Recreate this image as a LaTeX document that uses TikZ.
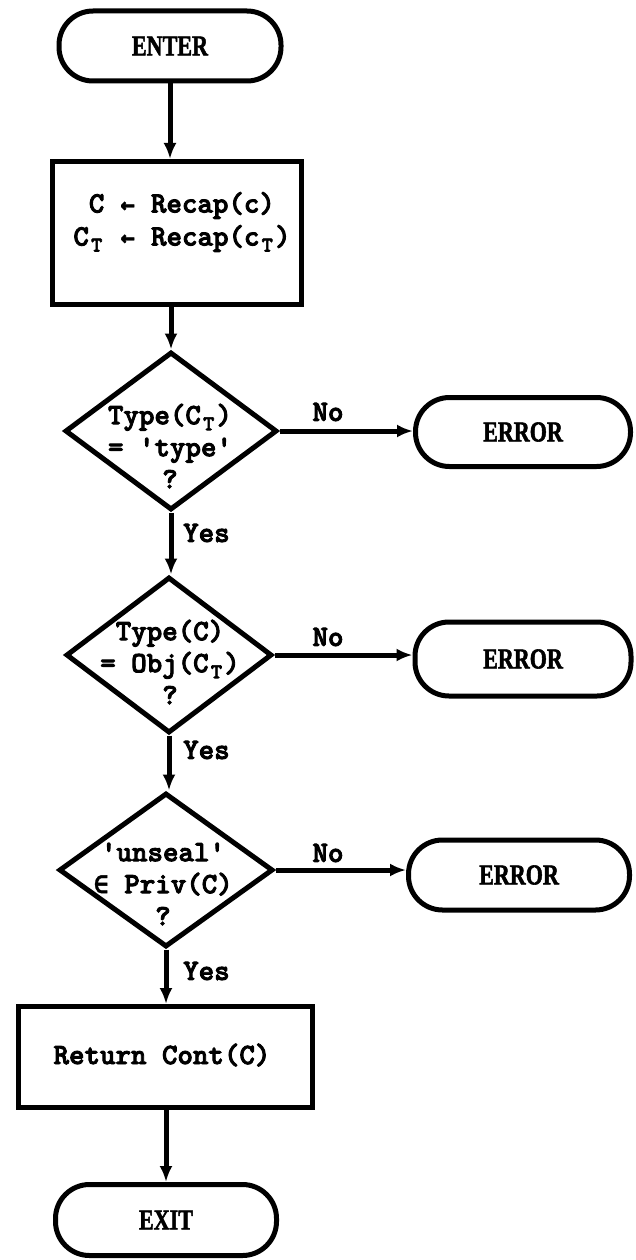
\documentclass[tikz,border=0pt]{standalone}
\usepackage{fontspec}
\setmainfont{Liberation Serif}
\setmonofont{lmmonolt10-bold.otf}[FakeBold=3]
\newfontfamily\termfont{Liberation Serif}[UprightFont=* Bold, FakeBold=2]
\newfontfamily\symfont{DejaVu Sans Mono}[UprightFont=* Bold, FakeBold=1.5]
\usetikzlibrary{shapes.geometric, arrows.meta}
\newcommand\lowT{\makebox[15.6pt][c]{\raisebox{-6pt}{\fontsize{21}{21}\selectfont T}}}
\newcommand\larr{\makebox[15.6pt][c]{\symfont\fontsize{24}{24}\selectfont ←}}
\newcommand\elem{\makebox[15.6pt][c]{\symfont\fontsize{24}{24}\selectfont ∈}}
\newcommand\tword[1]{\scalebox{0.92}[1.2]{#1}}
\begin{document}
\begin{tikzpicture}[x=1pt, y=-1pt,
  every node/.style={inner sep=0pt},
  ln/.style={line width=5pt},
  arr/.style={ln, -{Latex[length=16pt,width=13pt]}},
  term/.style={draw, line width=5pt, rounded corners=34pt,
    font=\termfont\fontsize{24}{24}\selectfont},
  procbox/.style={draw, line width=5pt},
  boxtext/.style={align=left, font=\ttfamily\fontsize{29.5}{33}\selectfont},
  dia/.style={draw, diamond, line width=5pt, line join=miter},
  diatext/.style={align=center, font=\ttfamily\fontsize{29.5}{32}\selectfont},
  lab/.style={font=\ttfamily\fontsize{29.5}{30}\selectfont}
]
\useasboundingbox (0,0) rectangle (636,1260);

% terminals and boxes
\node[term, minimum width=222pt, minimum height=70pt] (enter) at (170,46) {\tword{ENTER}};
\node[procbox, minimum width=249pt, minimum height=143pt] (assign) at (177,233) {};
\node[boxtext] (assignt) at (182,222)
  {~C \larr{} Recap(c)\\C\lowT{} \larr{} Recap(c\lowT)};

\node[dia, minimum width=212pt, minimum height=158pt] (d1) at (171,431) {};
\node[diatext] (d1t) at (170,446) {Type(C\lowT)\\= 'type'\\?};

\node[dia, minimum width=206pt, minimum height=156pt] (d2) at (169,655) {};
\node[diatext] (d2t) at (170,662) {Type(C)\\= Obj(C\lowT)\\?};

\node[dia, minimum width=214pt, minimum height=154pt] (d3) at (166,870) {};
\node[diatext] (d3t) at (163,884) {'unseal'\\\elem{} Priv(C)\\?};

\node[term, minimum width=215pt, minimum height=69pt] (e1) at (523,432) {\tword{ERROR}};
\node[term, minimum width=216pt, minimum height=74pt] (e2) at (523,659) {\tword{ERROR}};
\node[term, minimum width=221pt, minimum height=70pt] (e3) at (519,875) {\tword{ERROR}};

\node[procbox, minimum width=294pt, minimum height=101pt] (ret) at (165,1057) {};
\node[boxtext] (rett) at (162,1055) {Return Cont(C)};
\node[term, minimum width=221pt, minimum height=71pt] (exit) at (166,1220) {\tword{EXIT}};

% connectors
\draw[arr] (enter.south) -- (enter.south |- assign.north);
\draw[arr] (assign.south -| d1.north) -- (d1.north);
\draw[arr] (d1.south) -- (d1.south |- d2.north);
\draw[arr] (d2.south) -- (d2.south |- d3.north);
\draw[arr] (d3.south) -- (d3.south |- ret.north);
\draw[arr] (ret.south -| exit.north) -- (exit.north);

\draw[arr] (d1.east) -- (d1.east -| e1.west);
\draw[arr] (d2.east) -- (d2.east -| e2.west);
\draw[arr] (d3.east) -- (d3.east -| e3.west);

% labels
\node[lab] (no1) at (328,412) {No};
\node[lab] (no2) at (328,637) {No};
\node[lab] (no3) at (328,853) {No};
\node[lab, anchor=west] (yes1) at (183,533) {Yes};
\node[lab, anchor=west] (yes2) at (183,750) {Yes};
\node[lab, anchor=west] (yes3) at (183,971) {Yes};
\end{tikzpicture}
\end{document}
